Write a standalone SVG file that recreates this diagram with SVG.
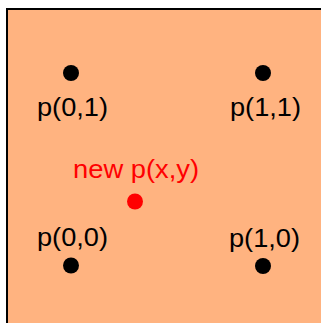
<svg xmlns="http://www.w3.org/2000/svg" width="321" height="323" viewBox="0 0 321 323">
<style>
.lbl{font-family:"Liberation Sans",Arial,sans-serif;font-size:26px;fill:#000;text-anchor:middle}
.red{fill:#FF0000}
.pt{fill:#000}
</style>
<g id="background">
<rect x="7" y="9" width="330" height="330" fill="#FFB380" stroke="#000" stroke-width="2"/>
</g>
<g id="p01">
<circle class="pt" cx="71" cy="73" r="8"/>
<text class="lbl" x="72.5" y="116" textLength="71" lengthAdjust="spacingAndGlyphs">p(0,1)</text>
</g>
<g id="p11">
<circle class="pt" cx="263" cy="73" r="8"/>
<text class="lbl" x="265.5" y="116" textLength="71" lengthAdjust="spacingAndGlyphs">p(1,1)</text>
</g>
<g id="pxy">
<circle class="red" cx="135" cy="201.5" r="8"/>
<text class="lbl red" x="136" y="178" textLength="126" lengthAdjust="spacingAndGlyphs">new p(x,y)</text>
</g>
<g id="p00">
<circle class="pt" cx="71" cy="265.5" r="8"/>
<text class="lbl" x="72.5" y="246" textLength="71" lengthAdjust="spacingAndGlyphs">p(0,0)</text>
</g>
<g id="p10">
<circle class="pt" cx="263" cy="266" r="8"/>
<text class="lbl" x="264.5" y="246.5" textLength="71" lengthAdjust="spacingAndGlyphs">p(1,0)</text>
</g>
<g id="connectors"></g>
</svg>
